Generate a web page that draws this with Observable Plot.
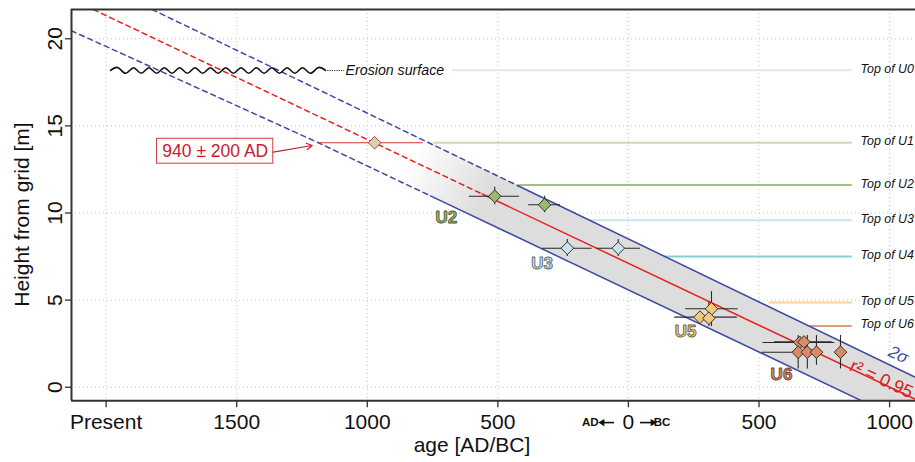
<!DOCTYPE html>
<html><head><meta charset="utf-8">
<script src="https://cdn.jsdelivr.net/npm/d3@7"></script>
<script src="https://cdn.jsdelivr.net/npm/@observablehq/plot@0.6"></script>
<style>html,body{margin:0;padding:0;background:#fff;overflow:hidden}#chart svg{display:block}</style>
</head><body><div id="chart"></div>
<script>
// ---------- axes ----------
const xTicks = [-2000, -1500, -1000, -500, 0, 500, 1000];      // negative = AD, positive = BC
const xTickLabels = ["Present", "1500", "1000", "500", "0", "500", "1000"];
const yTicks = [0, 5, 10, 15, 20];
const xDomain = [-2132.6, 1099.2];
const yDomain = [-0.78, 21.68];

// ---------- dated samples ----------
const sampleUnit     = ["U1","U2","U2","U3","U3","U5","U5","U5","U6","U6","U6","U6","U6","U6"];
const sampleAge      = [-972, -512, -321, -234, -39, 318, 274, 308, 656, 672, 650, 685, 720, 812];
const sampleAgeLo    = [-1187, -609, -382, -330, -120, 219, 177, 290, 515, 560, 512, 650, 700, 795];
const sampleAgeHi    = [-786, -417, -260, -139, 46, 420, 417, 330, 790, 780, 720, 720, 740, 830];
const sampleHeight   = [14.03, 10.96, 10.47, 7.98, 7.98, 4.50, 4.02, 3.96, 2.57, 2.60, 2.01, 2.01, 2.01, 2.01];
const sampleHeightLo = [14.03, 10.47, 10.01, 7.50, 7.50, 3.48, 3.80, 3.48, 2.40, 2.40, 1.05, 1.05, 1.26, 1.05];
const sampleHeightHi = [14.03, 11.48, 10.96, 8.48, 8.48, 5.49, 4.25, 4.92, 2.75, 2.80, 2.97, 2.97, 2.97, 2.97];
const unitFill = {U1: "#cad7b0", U2: "#9cba6c", U3: "#c8e6ee", U5: "#f5c87c", U6: "#da8b66"};

// ---------- unit tops ----------
const topNames  = ["Top of U0","Top of U1","Top of U2","Top of U3","Top of U4","Top of U5","Top of U6"];
const topHeight = [18.2, 14.03, 11.6, 9.59, 7.5, 4.86, 3.52];
const topStart  = [-674, -745, -420, -145, 136, 538, 697];
const topEnd    = 857;
const topColor  = ["#e6e9dc","#c8dab0","#a2c27c","#c6e5ed","#86cddb","#f8d294","#e5977c"];
const topLabelX = 889;

// ---------- regression line and 2-sigma band ----------
const fitX   = [-2049, -560, 1099];  const fitY   = [21.68, 11.09, -0.70];  const fitDashEnd = 1;
const upperX = [-1824, -421, 1099];  const upperY = [21.68, 11.55, 0.57];   const upperDashEnd = 1;
const lowerX = [-2133, -1187, -758, -471, 1099]; const lowerY = [20.46, 14.03, 10.98, 8.94, -2.25]; const lowerDashEnd = 2;
const bandX  = [-1000, -758, -471, -421, 1099];

// ---------- annotations ----------
const unitLabels = ["U2","U3","U5","U6"];
const unitLabelX = [-697, -331, 219, 586];
const unitLabelY = [9.76, 7.10, 3.20, 0.73];
const unitLabelStroke = ["#4d5a36","#5b6b70","#7a6036","#6e4330"];
const erosion = {x0: -1983, x1: -1160, xText: -1087, y: 18.18, label: "Erosion surface"};
const ageBox = {x1: -1805, x2: -1360, y1: 12.83, y2: 14.26, tx: -1582, ty: 13.53, label: "940 ± 200 AD"};
const ageArrow = {x1: -1360, y1: 13.49, x2: -1211, y2: 13.875};
const sigmaLabel = {x: 1034, y: 1.86, label: "2σ"};
const r2Label = {x: 969, y: 0.47, label: "r² = 0.95"};
const xTitle = {x: -599, y: -3.31, label: "age [AD/BC]"};
const yTitle = {x: -2296, y: 9.91, label: "Height from grid [m]"};
const eraY = -2.03;
const eraArrows = [{x1: -53, x2: -100, dir: -90}, {x1: 46, x2: 93, dir: 90}];
const eraLeft = {text: "AD", x: -114};
const eraRight = {text: "BC", x: 97};

// ---------- build tables ----------
const samples = sampleUnit.map((u, i) => ({unit: u, x: sampleAge[i], xlo: sampleAgeLo[i], xhi: sampleAgeHi[i],
  y: sampleHeight[i], ylo: sampleHeightLo[i], yhi: sampleHeightHi[i]}));
const tops = topNames.map((n, i) => ({name: n, h: topHeight[i], start: topStart[i], color: topColor[i]}));
const pts = (xs, ys) => xs.map((x, i) => ({x, y: ys[i]}));
const interp = (xs, ys, x) => { for (let i = 0; i < xs.length - 1; i++) { if (x <= xs[i+1]) { const t = (x - xs[i]) / (xs[i+1] - xs[i]); return ys[i] + t * (ys[i+1] - ys[i]); } } return ys[ys.length-1]; };
const band = bandX.map(x => ({x, lo: interp(lowerX, lowerY, x), hi: interp(upperX, upperY, x)}));
const fitPts = pts(fitX, fitY), upPts = pts(upperX, upperY), loPts = pts(lowerX, lowerY);

// decorative wavy erosion symbol
const wave = [];
const nHalf = 28;
for (let k = 0; k <= nHalf; k++) {
  wave.push({x: erosion.x0 + (erosion.x1 - erosion.x0) * k / nHalf, y: erosion.y + (k === 0 || k === nHalf ? 0 : (k % 2 ? 0.16 : -0.16))});
}

const RED = "#e8231f", BLUE = "#3d4aa3", DARK = "#2a2a2a";
const font = "'Liberation Sans', Arial, Helvetica, sans-serif";

const chart = Plot.plot({
  width: 915, height: 462,
  marginLeft: 71, marginRight: 0, marginTop: 9, marginBottom: 61.7,
  x: {domain: xDomain},
  y: {domain: yDomain},
  color: {type: "identity"},
  style: {fontFamily: font, background: "#fff", overflow: "visible"},
  marks: [
    Plot.gridX(xTicks, {stroke: "#c4c4c4", strokeOpacity: 1, strokeDasharray: "1,3"}),
    Plot.gridY(yTicks, {stroke: "#c4c4c4", strokeOpacity: 1, strokeDasharray: "1,3"}),
    Plot.areaY(band, {x: "x", y1: "lo", y2: "hi", fill: "url(#bandGrad)", clip: true}),
    // unit tops
    Plot.ruleY(tops, {y: "h", x1: "start", x2: topEnd, stroke: "color", strokeWidth: 2}),
    Plot.text(tops, {x: topLabelX, y: "h", text: "name", textAnchor: "start", fontStyle: "italic", fontSize: 12.4, fill: "#111", dy: -1.5}),
    // band & fit
    Plot.line(upPts.slice(0, upperDashEnd + 1), {x: "x", y: "y", stroke: BLUE, strokeWidth: 1.5, strokeDasharray: "5,4", clip: true}),
    Plot.line(upPts.slice(upperDashEnd), {x: "x", y: "y", stroke: BLUE, strokeWidth: 1.5, clip: true}),
    Plot.line(loPts.slice(0, lowerDashEnd + 1), {x: "x", y: "y", stroke: BLUE, strokeWidth: 1.5, strokeDasharray: "5,4", clip: true}),
    Plot.line(loPts.slice(lowerDashEnd), {x: "x", y: "y", stroke: BLUE, strokeWidth: 1.5, clip: true}),
    Plot.line(fitPts.slice(0, fitDashEnd + 1), {x: "x", y: "y", stroke: RED, strokeWidth: 1.5, strokeDasharray: "5,4", clip: true}),
    Plot.line(fitPts.slice(fitDashEnd), {x: "x", y: "y", stroke: RED, strokeWidth: 1.5, clip: true}),
    // error bars
    Plot.ruleY(samples.filter(d => d.xhi > d.xlo), {y: "y", x1: "xlo", x2: "xhi", stroke: d => d.unit === "U1" ? "#d8343a" : DARK, strokeWidth: 1.1}),
    Plot.ruleX(samples.filter(d => d.yhi > d.ylo), {x: "x", y1: "ylo", y2: "yhi", stroke: DARK, strokeWidth: 1.1}),
    Plot.dot(samples, {x: "x", y: "y", symbol: "diamond2", r: 5.7, fill: d => unitFill[d.unit], stroke: d => d.unit === "U1" ? "#d0343a" : "#333", strokeWidth: 1}),
    // unit labels
    Plot.text(unitLabels, {x: (d, i) => unitLabelX[i], y: (d, i) => unitLabelY[i], text: d => d, fill: d => unitFill[d], stroke: (d, i) => unitLabelStroke[i], strokeWidth: 0.9, paintOrder: "fill", fontWeight: "bold", fontSize: 17}),
    // erosion surface
    Plot.line(wave, {x: "x", y: "y", curve: "natural", stroke: "#111", strokeWidth: 1.6}),
    Plot.ruleY([erosion], {y: "y", x1: "x1", x2: "xText", stroke: "#111", strokeWidth: 1.2, strokeDasharray: "1,1.3"}),
    Plot.text([erosion], {x: "xText", y: "y", text: "label", textAnchor: "start", fontStyle: "italic", fontSize: 14.2, fill: "#111", dx: 1}),
    // 940 AD box
    Plot.rect([ageBox], {x1: "x1", x2: "x2", y1: "y1", y2: "y2", fill: "#fff", stroke: "#cf3a42", strokeWidth: 1}),
    Plot.text([ageBox], {x: "tx", y: "ty", text: "label", fill: "#c8202c", fontSize: 17.5}),
    Plot.arrow([ageArrow], {x1: "x1", y1: "y1", x2: "x2", y2: "y2", stroke: "#c8202c", strokeWidth: 1.2, headLength: 8}),
    // fit labels
    Plot.text([sigmaLabel], {x: "x", y: "y", text: "label", fill: BLUE, fontSize: 17, fontStyle: "italic", rotate: 25}),
    Plot.text([r2Label], {x: "x", y: "y", text: "label", fill: "#d42020", fontSize: 18, rotate: 25}),
    // frame
    Plot.ruleY([yDomain[0]], {stroke: "#333", strokeWidth: 2}),
    Plot.ruleY([yDomain[1]], {stroke: "#333", strokeWidth: 2}),
    Plot.ruleX([xDomain[0]], {stroke: "#333", strokeWidth: 2}),
    // axes
    Plot.axisX({ticks: xTicks, tickFormat: d => xTickLabels[xTicks.indexOf(d)], tickSize: 7, tickPadding: 6, fontSize: 21, stroke: "#333", strokeWidth: 1.3, fill: "#111", label: null}),
    Plot.ruleY(eraArrows, {y: eraY, x1: "x1", x2: "x2", stroke: "#111", strokeWidth: 1.6}),
    Plot.dot(eraArrows, {x: "x2", y: eraY, symbol: "triangle2", r: 3.4, rotate: "dir", fill: "#111"}),
    Plot.text([eraLeft], {x: "x", y: eraY, text: "text", textAnchor: "end", fontWeight: "bold", fontSize: 11.5, fill: "#111"}),
    Plot.text([eraRight], {x: "x", y: eraY, text: "text", textAnchor: "start", fontWeight: "bold", fontSize: 11.5, fill: "#111"}),
    Plot.axisY({ticks: yTicks, tickSize: 6, tickFormat: () => "", stroke: "#333", strokeWidth: 1.3, label: null}),
    Plot.text(yTicks, {x: xDomain[0], y: d => d, text: d => String(d), rotate: -90, textAnchor: "middle", lineAnchor: "bottom", dx: -9.5, fontSize: 21, fill: "#111"}),
    Plot.text([xTitle], {x: "x", y: "y", text: "label", fontSize: 21, fill: "#111"}),
    Plot.text([yTitle], {x: "x", y: "y", text: "label", rotate: -90, lineAnchor: "bottom", fontSize: 21, fill: "#111"})
  ]
});

const defs = d3.select(chart).insert("defs", ":first-child");
const g = defs.append("linearGradient").attr("id", "bandGrad").attr("gradientUnits", "userSpaceOnUse")
  .attr("x1", 415).attr("y1", 150).attr("x2", 490).attr("y2", 190);
g.append("stop").attr("offset", 0).attr("stop-color", "#dddddd").attr("stop-opacity", 0);
g.append("stop").attr("offset", 1).attr("stop-color", "#dddddd").attr("stop-opacity", 1);

document.getElementById("chart").append(chart);
</script>
</body></html>
